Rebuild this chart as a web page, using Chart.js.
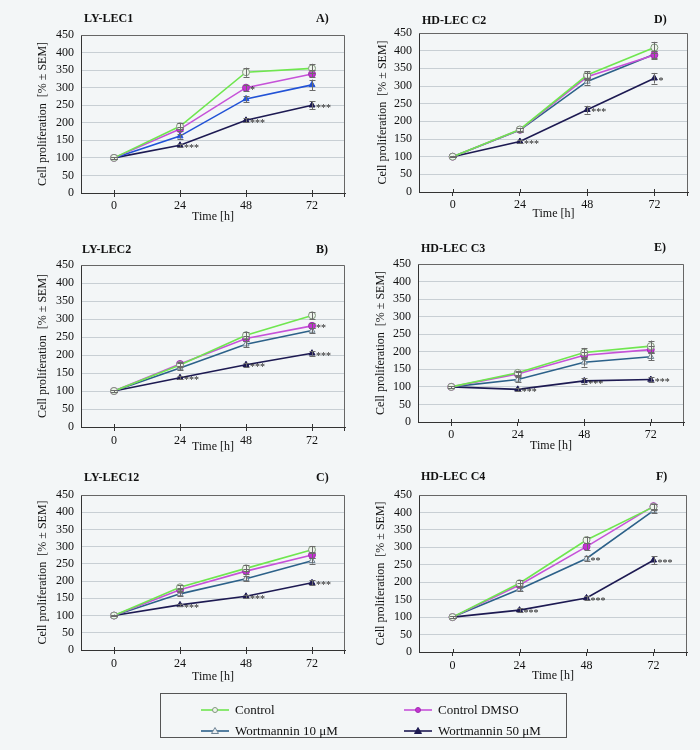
<!DOCTYPE html>
<html>
<head>
<meta charset="utf-8">
<script src="https://cdn.jsdelivr.net/npm/chart.js@4.4.1/dist/chart.umd.min.js"></script>
<style>
body { margin: 0; background: #f3f6f7; }
#wrap { position: relative; width: 700px; height: 750px; font-family: "Liberation Serif", "Times New Roman", serif; color: #111; }
#wrap canvas { position: absolute; }
.ttl { position: absolute; font-weight: bold; font-size: 12px; line-height: 14px; white-space: nowrap; }
.legend { position: absolute; left: 160px; top: 693px; width: 407px; height: 45px; border: 1px solid #555; box-sizing: border-box; }
.item { position: absolute; font-size: 13px; line-height: 16px; display: flex; align-items: center; white-space: nowrap; }
.item svg { margin-right: 6px; }
</style>
</head>
<body>
<div id="wrap">
  <canvas id="cA" width="350" height="240" style="left:0;top:0"></canvas>
  <canvas id="cD" width="350" height="240" style="left:350px;top:0"></canvas>
  <canvas id="cB" width="350" height="240" style="left:0;top:240px"></canvas>
  <canvas id="cE" width="350" height="240" style="left:350px;top:240px"></canvas>
  <canvas id="cC" width="350" height="240" style="left:0;top:480px"></canvas>
  <canvas id="cF" width="350" height="240" style="left:350px;top:480px"></canvas>

  <div class="ttl" style="left:84px;top:11px">LY-LEC1</div>
  <div class="ttl" style="left:316px;top:11px">A)</div>
  <div class="ttl" style="left:422px;top:13px">HD-LEC C2</div>
  <div class="ttl" style="left:654px;top:12px">D)</div>
  <div class="ttl" style="left:82px;top:242px">LY-LEC2</div>
  <div class="ttl" style="left:316px;top:242px">B)</div>
  <div class="ttl" style="left:421px;top:241px">HD-LEC C3</div>
  <div class="ttl" style="left:654px;top:240px">E)</div>
  <div class="ttl" style="left:84px;top:470px">LY-LEC12</div>
  <div class="ttl" style="left:316px;top:470px">C)</div>
  <div class="ttl" style="left:421px;top:469px">HD-LEC C4</div>
  <div class="ttl" style="left:656px;top:469px">F)</div>

  <div class="legend" id="legend"></div>
</div>

<script>
const timeLabels = ['0', '24', '48', '72'];
const seriesNames = ['Control', 'Control DMSO', 'Wortmannin 10 \u03bcM', 'Wortmannin 50 \u03bcM'];
const yMax = 450;
const yStep = 50;

// series order: Control, Control DMSO, Wortmannin 10, Wortmannin 50
const lyLec1Values = [[100, 190, 344, 355], [100, 182, 300, 339], [100, 162, 268, 308], [100, 136, 207, 250]];
const lyLec1Errors = [[2, 8, 13, 13], [2, 6, 9, 10], [2, 7, 9, 15], [2, 4, 6, 11]];
const lyLec1Stars = [['', '', '', ''], ['', '', '*', ''], ['', '', '', ''], ['', '***', '***', '***']];

const hdLecC2Values = [[100, 177, 331, 409], [100, 176, 326, 388], [100, 175, 313, 390], [100, 143, 233, 322]];
const hdLecC2Errors = [[2, 5, 11, 16], [2, 5, 10, 12], [2, 5, 9, 10], [2, 4, 11, 15]];
const hdLecC2Stars = [['', '', '', ''], ['', '', '', ''], ['', '', '', ''], ['', '***', '***', '*']];

const lyLec2Values = [[100, 172, 255, 310], [100, 175, 246, 281], [100, 164, 230, 268], [100, 137, 173, 205]];
const lyLec2Errors = [[2, 6, 10, 10], [2, 5, 8, 7], [2, 6, 9, 8], [2, 4, 5, 7]];
const lyLec2Stars = [['', '', '', ''], ['', '', '', '**'], ['', '', '', ''], ['', '***', '***', '***']];

const hdLecC3Values = [[100, 140, 198, 216], [100, 137, 190, 206], [100, 121, 170, 186], [100, 93, 117, 121]];
const hdLecC3Errors = [[2, 6, 13, 16], [2, 5, 10, 10], [2, 8, 12, 10], [2, 4, 8, 6]];
const hdLecC3Stars = [['', '', '', ''], ['', '', '', ''], ['', '', '', ''], ['', '***', '***', '***']];

const lyLec12Values = [[100, 182, 237, 291], [100, 175, 229, 276], [100, 163, 207, 259], [100, 131, 156, 195]];
const lyLec12Errors = [[2, 6, 9, 10], [2, 5, 7, 8], [2, 6, 7, 8], [2, 4, 5, 7]];
const lyLec12Stars = [['', '', '', ''], ['', '', '', ''], ['', '', '', ''], ['', '***', '***', '***']];

const hdLecC4Values = [[100, 197, 321, 416], [100, 192, 302, 418], [100, 180, 268, 405], [100, 120, 155, 263]];
const hdLecC4Errors = [[2, 8, 10, 8], [2, 7, 9, 7], [2, 6, 7, 6], [2, 5, 6, 12]];
const hdLecC4Stars = [['', '', '', ''], ['', '', '', ''], ['', '', '**', ''], ['', '***', '***', '***']];

const serif = '"Liberation Serif", "Times New Roman", serif';

// line colour, marker style, marker fill, marker edge
const seriesStyle = [
    { line: '#6fe64f', point: 'circle', fill: '#eef5ec', edge: '#7f967a' },
    { line: '#c652d8', point: 'circle', fill: '#c433d2', edge: '#a02cb0' },
    { line: '#2c6189', point: 'triangle', fill: '#e8edf1', edge: '#6f8494' },
    { line: '#1d1a52', point: 'triangle', fill: '#1d1a52', edge: '#1d1a52' },
];

const extras = {
    id: 'extras',
    afterDatasetsDraw(chart) {
        const { ctx, chartArea: a } = chart;
        const y = chart.scales.y;
        const x = chart.scales.x;
        ctx.save();
        ctx.strokeStyle = '#666';
        ctx.lineWidth = 1;
        ctx.beginPath();
        ctx.moveTo(a.left, a.top + 0.5);
        ctx.lineTo(a.right - 0.5, a.top + 0.5);
        ctx.lineTo(a.right - 0.5, a.bottom);
        ctx.stroke();

        // x tick marks crossing the axis a little
        ctx.strokeStyle = '#333';
        ctx.beginPath();
        timeLabels.forEach((_, k) => {
            const px = Math.round(x.getPixelForTick(k)) + 0.5;
            ctx.moveTo(px, a.bottom - 3);
            ctx.lineTo(px, a.bottom);
        });
        ctx.moveTo(a.right - 0.5, a.bottom);
        ctx.lineTo(a.right - 0.5, a.bottom + 4);
        ctx.stroke();

        chart.data.datasets.forEach((ds, i) => {
            const meta = chart.getDatasetMeta(i);
            meta.data.forEach((pt, j) => {
                const v = ds.data[j];
                const e = ds.errors[j];
                const px = Math.round(pt.x) + 0.5;
                const yHi = y.getPixelForValue(v + e);
                const yLo = y.getPixelForValue(v - e);
                ctx.strokeStyle = '#6b6b6b';
                ctx.beginPath();
                ctx.moveTo(px, yHi);
                ctx.lineTo(px, yLo);
                ctx.moveTo(px - 3, Math.round(yHi) + 0.5);
                ctx.lineTo(px + 3, Math.round(yHi) + 0.5);
                ctx.moveTo(px - 3, Math.round(yLo) + 0.5);
                ctx.lineTo(px + 3, Math.round(yLo) + 0.5);
                ctx.stroke();
                if (ds.stars[j]) {
                    ctx.fillStyle = '#222';
                    ctx.font = '10px ' + serif;
                    ctx.textAlign = 'left';
                    ctx.textBaseline = 'middle';
                    ctx.fillText(ds.stars[j], pt.x + 4, pt.y + 3);
                }
            });
        });
        ctx.restore();
    }
};

function makePanel(id, values, errors, stars, lay, w10Colour) {
    const datasets = values.map((vals, i) => {
        const st = seriesStyle[i];
        const own = i === 2 && w10Colour;
        return {
            label: seriesNames[i],
            data: vals,
            errors: errors[i],
            stars: stars[i],
            borderColor: own ? w10Colour : st.line,
            borderWidth: 1.6,
            tension: 0,
            pointStyle: st.point,
            pointRadius: 3.5,
            pointBackgroundColor: own ? w10Colour : st.fill,
            pointBorderColor: own ? w10Colour : st.edge,
            pointBorderWidth: 1,
        };
    });

    new Chart(document.getElementById(id), {
        type: 'line',
        data: { labels: timeLabels, datasets: datasets },
        options: {
            responsive: false,
            animation: false,
            layout: { padding: { top: lay.top, right: lay.right, bottom: 0, left: 0 } },
            plugins: {
                legend: { display: false },
                tooltip: { enabled: false },
            },
            scales: {
                x: {
                    offset: true,
                    grid: { offset: false, drawOnChartArea: false, color: '#333', tickLength: 4 },
                    border: { color: '#333' },
                    ticks: { color: '#111', font: { family: serif, size: 12 }, padding: lay.tickPad },
                    title: {
                        display: true,
                        text: 'Time [h]',
                        color: '#111',
                        font: { family: serif, size: 12 },
                        padding: { top: 0, bottom: lay.titleBottom },
                    },
                    afterFit: (s) => { s.height = lay.xh; },
                },
                y: {
                    min: 0,
                    max: yMax,
                    ticks: { stepSize: yStep, autoSkip: false, color: '#111', font: { family: serif, size: 12 }, padding: 7 },
                    grid: { color: '#c8cfd4', drawTicks: false },
                    border: { color: '#333' },
                    title: {
                        display: true,
                        text: 'Cell proliferation  [% \u00b1 SEM]',
                        color: '#111',
                        font: { family: serif, size: 12 },
                        padding: { top: lay.yTitle, bottom: 0 },
                    },
                    afterFit: (s) => { s.width = lay.yw; },
                },
            },
        },
        plugins: [extras],
    });
}

makePanel('cA', lyLec1Values, lyLec1Errors, lyLec1Stars,
    { top: 35, right: 2, xh: 47, yw: 81, tickPad: 2, titleBottom: 16, yTitle: 36 }, '#2152d6');
makePanel('cD', hdLecC2Values, hdLecC2Errors, hdLecC2Stars,
    { top: 33, right: 12, xh: 48, yw: 69, tickPad: 2, titleBottom: 19, yTitle: 26 });
makePanel('cB', lyLec2Values, lyLec2Errors, lyLec2Stars,
    { top: 25, right: 2, xh: 53, yw: 81, tickPad: 3, titleBottom: 26, yTitle: 36 });
makePanel('cE', hdLecC3Values, hdLecC3Errors, hdLecC3Stars,
    { top: 24, right: 16, xh: 58, yw: 68, tickPad: 2, titleBottom: 27, yTitle: 24 });
makePanel('cC', lyLec12Values, lyLec12Errors, lyLec12Stars,
    { top: 15, right: 1, xh: 70, yw: 81, tickPad: 3, titleBottom: 36, yTitle: 36 });
makePanel('cF', hdLecC4Values, hdLecC4Errors, hdLecC4Stars,
    { top: 15, right: 13, xh: 68, yw: 69, tickPad: 3, titleBottom: 37, yTitle: 24 });

// legend
const legendPos = [[40, 8], [243, 8], [40, 29], [243, 29]];
const legend = document.getElementById('legend');
seriesNames.forEach((name, i) => {
    const st = seriesStyle[i];
    const m = st.point === 'circle'
        ? `<circle cx="14" cy="5" r="2.5" fill="${st.fill}" stroke="${st.edge}" stroke-width="1"/>`
        : `<polygon points="14,1.5 17.5,7.5 10.5,7.5" fill="${st.fill}" stroke="${st.edge}" stroke-width="1"/>`;
    const div = document.createElement('div');
    div.className = 'item';
    div.style.left = legendPos[i][0] + 'px';
    div.style.top = legendPos[i][1] + 'px';
    div.innerHTML = `<svg width="28" height="10"><line x1="0" y1="5" x2="28" y2="5" stroke="${st.line}" stroke-width="1.6"/>${m}</svg>${name}`;
    legend.appendChild(div);
});
</script>
</body>
</html>
